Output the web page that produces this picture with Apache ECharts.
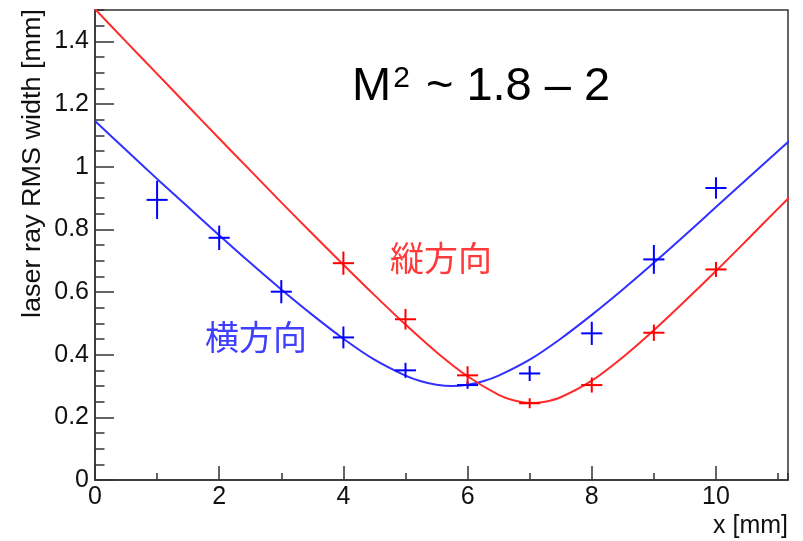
<!DOCTYPE html>
<html>
<head>
<meta charset="utf-8">
<script src="https://cdn.jsdelivr.net/npm/echarts@6/dist/echarts.min.js"></script>
<style>
html,body{margin:0;padding:0;background:#fff;}
#chart{width:803px;height:541px;}
</style>
</head>
<body>
<div id="chart"></div>
<script>
// ---- data ----
const xTickInterval = 2;
const yTickInterval = 0.2;
const xMax = 11.16;
const yMax = 1.5;

// measured points (横方向, blue)
const blueX = [1, 2, 3, 4, 5, 6, 7, 8, 9, 10];
const blueY = [0.894, 0.773, 0.601, 0.455, 0.350, 0.303, 0.340, 0.468, 0.704, 0.932];
const blueEy = [0.061, 0.039, 0.037, 0.035, 0.024, 0.012, 0.024, 0.037, 0.046, 0.034];

// measured points (縦方向, red)
const redX = [4, 5, 6, 7, 8, 9, 10];
const redY = [0.692, 0.513, 0.334, 0.245, 0.303, 0.470, 0.672];
const redEy = [0.037, 0.033, 0.029, 0.016, 0.024, 0.026, 0.024];

const xErr = 0.17;

// fitted curves (last point lies just past the frame and is clipped)
const blueCurveX = [0, 0.5, 1, 1.5, 2, 2.5, 3, 3.5, 4, 4.5, 5, 5.25, 5.5, 5.75, 6, 6.25, 6.5, 7, 7.5, 8, 8.5, 9, 9.5, 10, 10.5, 11, 11.5];
const blueCurve = [1.146, 1.053, 0.961, 0.871, 0.781, 0.693, 0.608, 0.527, 0.451, 0.384, 0.333, 0.315, 0.304, 0.300, 0.304, 0.315, 0.333, 0.384, 0.451, 0.527, 0.608, 0.693, 0.781, 0.871, 0.961, 1.050, 1.140];
const redCurveX = [0, 0.5, 1, 1.5, 2, 2.5, 3, 3.5, 4, 4.5, 5, 5.5, 6, 6.5, 6.75, 7, 7.25, 7.5, 8, 8.5, 9, 9.5, 10, 10.5, 11, 11.5];
const redCurve = [1.503, 1.399, 1.296, 1.193, 1.090, 0.988, 0.886, 0.786, 0.687, 0.590, 0.496, 0.408, 0.331, 0.272, 0.254, 0.246, 0.250, 0.264, 0.317, 0.392, 0.478, 0.571, 0.667, 0.766, 0.866, 0.965];

// ---- chart ----
const BLUE = '#0000ff', RED = '#ff0000';
const FONT = 'Liberation Sans';
const chart = echarts.init(document.getElementById('chart'));

function pts(xs, ys, es) { return xs.map((x, i) => [x, ys[i], xErr, es[i]]); }
function line(xs, ys) { return xs.map((x, i) => [x, ys[i]]); }

function crossRender(color) {
  return function (params, api) {
    const x = api.value(0), y = api.value(1), ex = api.value(2), ey = api.value(3);
    const a = api.coord([x - ex, y]), b = api.coord([x + ex, y]);
    const c = api.coord([x, y - ey]), d = api.coord([x, y + ey]);
    const st = { stroke: color, lineWidth: 2 };
    return {
      type: 'group',
      children: [
        { type: 'line', shape: { x1: a[0], y1: a[1], x2: b[0], y2: b[1] }, style: st },
        { type: 'line', shape: { x1: c[0], y1: c[1], x2: d[0], y2: d[1] }, style: st }
      ]
    };
  };
}

const common = { min: 0, splitLine: { show: false } };

chart.setOption({
  animation: false,
  backgroundColor: '#fff',
  grid: { left: 95, right: 15, top: 10, bottom: 61, show: true, borderColor: '#333', borderWidth: 1.5, backgroundColor: 'transparent' },
  xAxis: [
    Object.assign({}, common, {
      type: 'value', max: xMax, interval: xTickInterval, position: 'bottom',
      axisLine: { show: true, lineStyle: { color: '#333', width: 1.5 } },
      axisTick: { show: true, inside: true, length: 14, lineStyle: { color: '#333', width: 1.5 } },
      axisLabel: { show: true, showMaxLabel: false, margin: 5, fontSize: 25, fontFamily: FONT, color: '#111' }
    }),
    Object.assign({}, common, {
      type: 'value', max: xMax, interval: 1, position: 'bottom',
      axisLine: { show: false },
      axisTick: { show: true, inside: true, length: 7, lineStyle: { color: '#333', width: 1.5 } },
      axisLabel: { show: false }
    })
  ],
  yAxis: [
    Object.assign({}, common, {
      type: 'value', max: yMax, interval: yTickInterval, position: 'left',
      axisLine: { show: true, lineStyle: { color: '#333', width: 1.5 } },
      axisTick: { show: true, inside: true, length: 19, lineStyle: { color: '#333', width: 1.5 } },
      axisLabel: { show: true, showMaxLabel: false, margin: 6, fontSize: 25, fontFamily: FONT, color: '#111' }
    }),
    Object.assign({}, common, {
      type: 'value', max: yMax, interval: 0.05, position: 'left',
      axisLine: { show: false },
      axisTick: { show: true, inside: true, length: 9.5, lineStyle: { color: '#333', width: 1.5 } },
      axisLabel: { show: false }
    })
  ],
  graphic: [
    { type: 'text', x: 33, y: 9, rotation: Math.PI / 2, scaleX: 1.08,
      style: { text: 'laser ray RMS width [mm]', fontFamily: FONT, fontSize: 25, fill: '#111', align: 'right', verticalAlign: 'middle' } },
    { type: 'text', x: 788, y: 526,
      style: { text: 'x [mm]', fontFamily: FONT, fontSize: 25, fill: '#111', align: 'right', verticalAlign: 'middle' } },
    { type: 'text', x: 352, y: 87,
      style: { text: '{m|M}{s|2}{m| ~ 1.8 – 2}', fill: '#000', align: 'left', verticalAlign: 'middle',
        rich: {
          m: { fontFamily: FONT, fontSize: 47, fill: '#000', lineHeight: 46 },
          s: { fontFamily: FONT, fontSize: 30, fill: '#000', verticalAlign: 'top', lineHeight: 20, padding: [0, 3, 0, 2] }
        } } },
    { type: 'text', x: 441, y: 258,
      style: { text: '縦方向', fontFamily: 'Noto Sans CJK JP', fontSize: 34, fill: '#ff3a3a', align: 'center', verticalAlign: 'middle' } },
    { type: 'text', x: 256, y: 337,
      style: { text: '横方向', fontFamily: 'Noto Sans CJK JP', fontSize: 34, fill: '#3f3fff', align: 'center', verticalAlign: 'middle' } }
  ],
  series: [
    { type: 'line', name: 'fit horizontal', data: line(blueCurveX, blueCurve), smooth: 0.3, showSymbol: false, symbol: 'none', clip: true,
      lineStyle: { color: '#3030ff', width: 2 }, z: 2 },
    { type: 'line', name: 'fit vertical', data: line(redCurveX, redCurve), smooth: 0.3, showSymbol: false, symbol: 'none', clip: true,
      lineStyle: { color: '#ff2a2a', width: 2 }, z: 2 },
    { type: 'custom', name: '横方向', renderItem: crossRender(BLUE), data: pts(blueX, blueY, blueEy), z: 3 },
    { type: 'custom', name: '縦方向', renderItem: crossRender(RED), data: pts(redX, redY, redEy), z: 3 }
  ]
});
</script>
</body>
</html>
